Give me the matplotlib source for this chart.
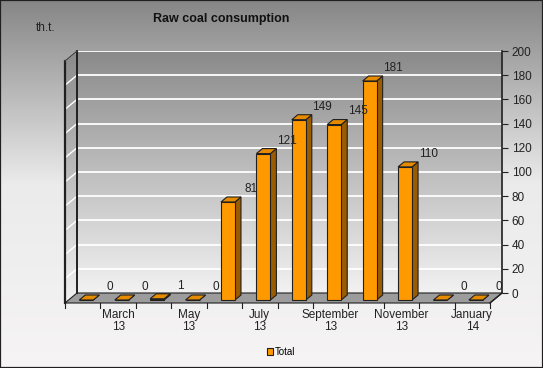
import matplotlib
matplotlib.use('Agg')
import matplotlib.pyplot as plt
import numpy as np
from matplotlib.patches import Polygon
from matplotlib.colors import LinearSegmentedColormap

plt.rcParams['font.family'] = ['Liberation Sans', 'DejaVu Sans']

months = ['February\n13', 'March\n13', 'April\n13', 'May\n13', 'June\n13', 'July\n13',
          'August\n13', 'September\n13', 'October\n13', 'November\n13', 'December\n13',
          'January\n14']
values = [0, 0, 1, 0, 81, 121, 149, 145, 181, 110, 0, 0]
y_ticks = list(range(0, 201, 20))

W, H, DPI = 543, 368, 100
fig = plt.figure(figsize=(W / DPI, H / DPI), dpi=DPI)

# background gradient + border
bg = fig.add_axes([0, 0, 1, 1])
bg_cmap = LinearSegmentedColormap.from_list('bg', ['#f6f4f4', '#ebebeb', '#868686'])
bg.imshow(np.linspace(0, 1, 256).reshape(-1, 1), cmap=bg_cmap, aspect='auto',
          extent=[0, 1, 0, 1], origin='lower')
bg.set_xticks([])
bg.set_yticks([])
for s in bg.spines.values():
    s.set_color('#202020')
    s.set_linewidth(1.6)

# back wall of the 3d box
ax = fig.add_axes([77 / W, 1 - 293 / H, 425 / W, 242 / H])
n = len(values)
px_x = 425 / n
px_y = 242 / 200
ddx = -12 / px_x      # depth vector, back -> front, in data units
ddy = -10 / px_y

wall_cmap = LinearSegmentedColormap.from_list('wall', ['#f2f2f2', '#8a8a8a'])
ax.imshow(np.linspace(0, 1, 256).reshape(-1, 1), cmap=wall_cmap, aspect='auto',
          extent=[-0.5, n - 0.5, 0, 200], origin='lower', zorder=0)

# left wall
lw_poly = Polygon([(-0.5, 0), (-0.5, 200), (-0.5 + ddx, 200 + ddy), (-0.5 + ddx, ddy)],
                  closed=True, fc='none', ec='none')
ax.add_patch(lw_poly)
im = ax.imshow(np.linspace(0, 1, 256).reshape(-1, 1), cmap=wall_cmap, aspect='auto',
               extent=[-0.5 + ddx, -0.5, ddy, 200], origin='lower', zorder=0)
im.set_clip_box(fig.bbox)
im.set_clip_path(lw_poly)

# floor
floor = Polygon([(-0.5, 0), (n - 0.5, 0), (n - 0.5 + ddx, ddy), (-0.5 + ddx, ddy)],
                closed=True, fc='#9c9c9c', ec='#202020', lw=0.8, clip_on=False, zorder=1)
ax.add_patch(floor)

# gridlines on back and left wall
for t in y_ticks[1:]:
    ax.plot([-0.5, n - 0.5], [t, t], color='white', lw=1.3, zorder=1)
    ax.plot([-0.5 + ddx, -0.5], [t + ddy, t], color='white', lw=1.0, zorder=1, clip_on=False)

# box edges
ax.plot([-0.5, -0.5], [0, 200], color='#202020', lw=1.4, zorder=2, clip_on=False)
ax.plot([-0.5 + ddx, -0.5 + ddx], [ddy, 200 + ddy], color='#202020', lw=1.6, zorder=2, clip_on=False)
ax.plot([-0.5 + ddx, -0.5], [200 + ddy, 200], color='#404040', lw=1.0, zorder=2, clip_on=False)
ax.plot([n - 0.5, n - 0.5 + ddx], [0, ddy], color='#202020', lw=1.0, zorder=2, clip_on=False)

# bars
x = np.arange(n)
bw = 14 / px_x
front, back = 0.7, 0.2
fx = x + front * ddx
fy = front * ddy
sx = (back - front) * ddx
sy = (back - front) * ddy
for xi, v in zip(fx, values):
    side = Polygon([(xi + bw / 2, fy), (xi + bw / 2, fy + v), (xi + bw / 2 + sx, fy + v + sy),
                    (xi + bw / 2 + sx, fy + sy)], closed=True, fc='#9a5c00', ec='#202020',
                   lw=0.8, clip_on=False, zorder=4)
    top = Polygon([(xi - bw / 2, fy + v), (xi + bw / 2, fy + v), (xi + bw / 2 + sx, fy + v + sy),
                   (xi - bw / 2 + sx, fy + v + sy)], closed=True, fc='#e68a00', ec='#202020',
                  lw=0.8, clip_on=False, zorder=4)
    ax.add_patch(side)
    ax.add_patch(top)
bars = ax.bar(fx, values, width=bw, bottom=fy, color='#ff9900', edgecolor='#202020',
              lw=0.8, clip_on=False, zorder=5, label='Total')

for i, v in enumerate(values):
    ax.text(i + 0.42, v + 5, str(v), ha='center', va='center', fontsize=8.5,
            color='#222222', zorder=6, clip_on=False)

# category axis on the front edge of the floor
for k in range(n + 1):
    ax.plot([-0.5 + k + ddx] * 2, [ddy, ddy - 5 / px_y], color='#202020', lw=0.8, clip_on=False)
for i in range(1, n, 2):
    ax.text(i + ddx, ddy - 6 / px_y, months[i], ha='center', va='top', fontsize=8.5,
            color='#222222', linespacing=1.05, clip_on=False)

ax.set_xlim(-0.5, n - 0.5)
ax.set_ylim(0, 200)
ax.set_xticks([])
ax.yaxis.tick_right()
ax.set_yticks(y_ticks)
ax.tick_params(axis='y', direction='out', length=4, width=0.8, labelsize=8.5,
               colors='#222222', pad=3)
for s in ['top', 'left', 'bottom']:
    ax.spines[s].set_visible(False)
ax.spines['right'].set_color('#202020')
ax.spines['right'].set_linewidth(1.2)

fig.text(221 / W, 1 - 19 / H, 'Raw coal consumption', ha='center', va='center',
         fontsize=9, fontweight='bold', color='#111111')
fig.text(36 / W, 1 - 28 / H, 'th.t.', ha='left', va='center', fontsize=8.5, color='#222222')

fig.legend(handles=[bars], labels=['Total'], loc='center', bbox_to_anchor=(281 / W, 1 - 352 / H),
           frameon=False, fontsize=7, handlelength=0.6, handleheight=0.6, handletextpad=0.2)

fig.savefig('out.png', dpi=DPI)
